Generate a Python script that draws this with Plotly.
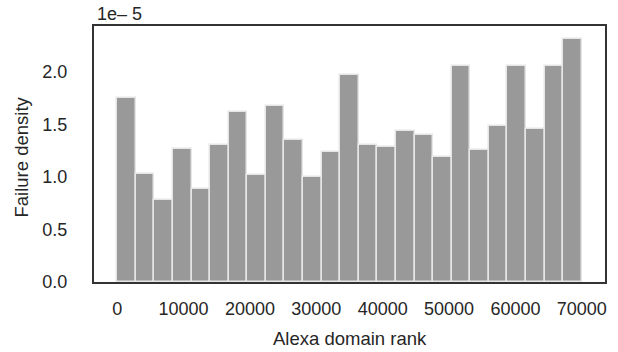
import plotly.graph_objects as go

# Histogram of failure density over Alexa domain rank (25 bins of 2800 ranks)
bin_width = 2800
bin_starts = [i * bin_width for i in range(25)]
density_e5 = [1.75, 1.03, 0.78, 1.27, 0.89, 1.31, 1.62, 1.02, 1.68, 1.35,
              1.00, 1.24, 1.97, 1.31, 1.29, 1.44, 1.40, 1.19, 2.06, 1.26,
              1.49, 2.06, 1.46, 2.06, 2.32]
x_ticks = [0, 10000, 20000, 30000, 40000, 50000, 60000, 70000]
y_ticks = [0.0, 0.5, 1.0, 1.5, 2.0]

font_family = "Liberation Sans, Arial, Helvetica, sans-serif"
text_color = "#262626"
frame_color = "#333333"

fig = go.Figure(
    go.Bar(
        x=[s + bin_width / 2 for s in bin_starts],
        y=density_e5,
        width=bin_width,
        marker=dict(color="#999999", line=dict(color="#e6e6e6", width=1.5)),
    )
)


def label(text, x, y, angle=0, size=18.5):
    return dict(
        text=text, xref="paper", yref="paper", x=x, y=y,
        xanchor="center", yanchor="middle", textangle=angle,
        showarrow=False, font=dict(family=font_family, size=size, color=text_color),
    )


fig.update_layout(
    width=618,
    height=352,
    margin=dict(l=94, r=13, t=26, b=70, autoexpand=False),
    paper_bgcolor="white",
    plot_bgcolor="white",
    bargap=0,
    showlegend=False,
    font=dict(family=font_family, size=18, color=text_color),
    annotations=[
        dict(
            text="1e\u2013 5",
            xref="paper", yref="paper",
            x=0.002, y=1.047,
            xanchor="left", yanchor="middle",
            showarrow=False,
            font=dict(family=font_family, size=18, color=text_color),
        ),
        label("Alexa domain rank", 0.501, -0.219),
        label("Failure density", -0.141, 0.49, angle=-90),
    ],
)

fig.update_xaxes(
    range=[-3500, 73500],
    tickvals=x_ticks,
    ticktext=[str(v) for v in x_ticks],
    ticks="outside",
    ticklen=9,
    tickcolor="rgba(0,0,0,0)",
    showgrid=False,
    zeroline=False,
    showline=True,
    mirror=True,
    linecolor=frame_color,
    linewidth=2,
    tickfont=dict(size=18),
    automargin=False,
)

fig.update_yaxes(
    range=[0, 2.44],
    tickvals=y_ticks,
    ticktext=[f"{v:.1f}" for v in y_ticks],
    ticks="outside",
    ticklen=21,
    tickcolor="rgba(0,0,0,0)",
    showgrid=False,
    zeroline=False,
    showline=True,
    mirror=True,
    linecolor=frame_color,
    linewidth=2,
    tickfont=dict(size=18),
    automargin=False,
)

fig.write_html("out.html")
